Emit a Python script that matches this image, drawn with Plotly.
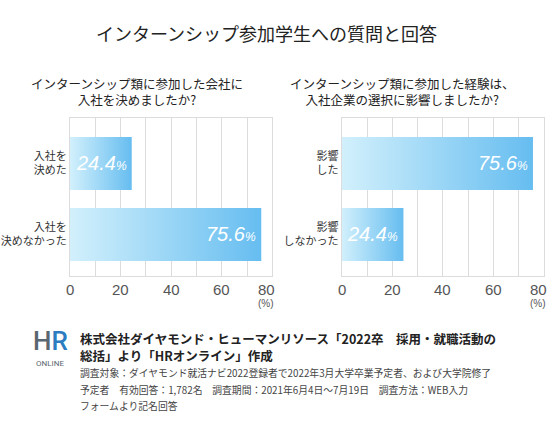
import plotly.graph_objects as go

# ---- data ----
title = "インターンシップ参加学生への質問と回答"
q1_title = "インターンシップ類に参加した会社に<br>入社を決めましたか?"
q2_title = "インターンシップ類に参加した経験は、<br>入社企業の選択に影響しましたか?"
q1_categories = ["入社を<br>決めた", "入社を<br>決めなかった"]
q1_values = [24.4, 75.6]
q2_categories = ["影響<br>した", "影響<br>しなかった"]
q2_values = [75.6, 24.4]
x_ticks = [0, 20, 40, 60, 80]
source_bold = ["株式会社ダイヤモンド・ヒューマンリソース「2022卒　採用・就職活動の",
               "総括」より「HRオンライン」作成"]
source_notes = ["調査対象：ダイヤモンド就活ナビ2022登録者で2022年3月大学卒業予定者、および大学院修了",
                "予定者　有効回答：1,782名　調査期間：2021年6月4日～7月19日　調査方法：WEB入力",
                "フォームより記名回答"]

W, H = 550, 424
JP = "Noto Sans CJK JP"
NUM = "Liberation Sans, Noto Sans CJK JP"
half = 0.373
grad = [[0, "#d2f0fc"], [1, "#66bdf0"]]

fig = go.Figure()

def ann(**kw):
    kw.setdefault("showarrow", False)
    kw.setdefault("xanchor", "center")
    kw.setdefault("yanchor", "middle")
    fig.add_annotation(**kw)

def add_panel(values, xa, ya):
    for i, v in enumerate(values):
        fig.add_trace(go.Scatter(
            x=[0, v, v, 0, 0], y=[i - half, i - half, i + half, i + half, i - half],
            mode="lines", fill="toself", line=dict(width=0),
            fillgradient=dict(type="horizontal", colorscale=grad),
            xaxis=xa, yaxis=ya, hoverinfo="skip", showlegend=False))
        ann(x=v, y=i, xref=xa, yref=ya, xanchor="right", xshift=-3,
            text=f"{v}<span style='font-size:12px'>%</span>",
            font=dict(family=NUM, size=20, color="white", style="italic"))
    for t in x_ticks:
        ann(x=t, y=1 - 289 / H, xref=xa, yref="paper", text=str(t),
            xshift=(-6 if t == x_ticks[-1] else 0),
            font=dict(family=NUM, size=15, color="#555"))
    ann(x=x_ticks[-1], y=1 - 303 / H, xref=xa, yref="paper", text="(%)", xshift=-6,
        font=dict(family=NUM, size=10, color="#555"))

add_panel(q1_values, "x", "y")
add_panel(q2_values, "x2", "y2")

grid = "#dcdcdc"
xcommon = dict(range=[0, 80], tickvals=x_ticks, showticklabels=False,
               showgrid=True, gridcolor=grid, gridwidth=1,
               minor=dict(dtick=10, showgrid=True, gridcolor=grid, gridwidth=1),
               showline=True, linecolor=grid, mirror=True, zeroline=False,
               ticks="", fixedrange=True, automargin=False)
ydom = [1 - 276 / H, 1 - 118 / H]
ycommon = dict(range=[1.585, -0.64], domain=ydom, showgrid=False, zeroline=False,
               showline=True, linecolor=grid, mirror=True, ticks="", automargin=False,
               tickfont=dict(family=JP, size=11, color="#333"), fixedrange=True)

fig.update_layout(
    width=W, height=H, margin=dict(l=0, r=0, t=0, b=0, autoexpand=False),
    paper_bgcolor="white", plot_bgcolor="white", showlegend=False,
    xaxis=dict(domain=[70 / W, 272.4 / W], anchor="y", **xcommon),
    xaxis2=dict(domain=[341.7 / W, 544.1 / W], anchor="y2", **xcommon),
    yaxis=dict(anchor="x", tickvals=[0, 1], ticktext=q1_categories, **ycommon),
    yaxis2=dict(anchor="x2", tickvals=[0, 1], ticktext=q2_categories, **ycommon),
)

# titles
ann(x=266 / W, y=1 - 33 / H, xref="paper", yref="paper", text=title,
    font=dict(family=JP, size=18, color="#222"))
ann(x=137 / W, y=1 - 91 / H, xref="paper", yref="paper", text=q1_title,
    font=dict(family=JP, size=12.5, color="#222"))
ann(x=402 / W, y=1 - 91 / H, xref="paper", yref="paper", text=q2_title,
    font=dict(family=JP, size=12.5, color="#222"))

# logo
ann(x=50 / W, y=1 - 341 / H, xref="paper", yref="paper",
    text="<span style='color:#5b6770'>H</span><span style='color:#2b7cc0'>R</span>",
    font=dict(family="Roboto", size=26, weight=500))
ann(x=50 / W, y=1 - 363 / H, xref="paper", yref="paper", text="ONLINE",
    font=dict(family="Roboto", size=8, color="#5b6770"))

# source
for k, line in enumerate(source_bold):
    ann(x=78 / W, y=1 - (338 + 17.5 * k) / H, xref="paper", yref="paper",
        xanchor="left", text=f"<b>{line}</b>",
        font=dict(family=JP, size=12.5, color="#222"))
for k, line in enumerate(source_notes):
    ann(x=78 / W, y=1 - (373 + 16.5 * k) / H, xref="paper", yref="paper",
        xanchor="left", text=line,
        font=dict(family=JP, size=9.8, color="#444"))

fig.write_html("out.html", config={"displayModeBar": False},
               post_script="document.body.style.margin='0';")
